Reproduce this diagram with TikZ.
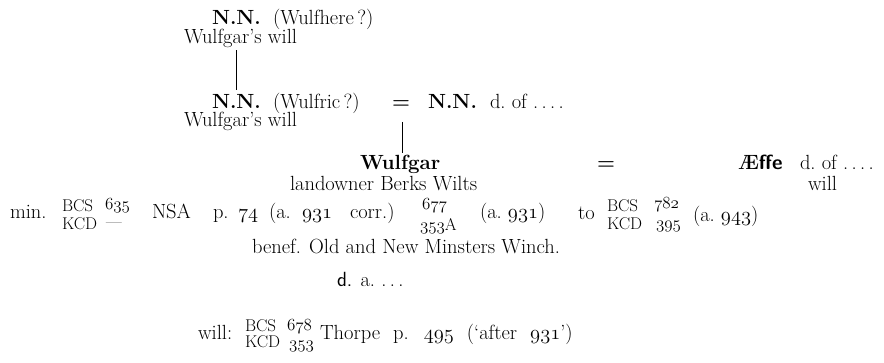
\RequirePackage{fix-cm}
\documentclass[tikz,border=0pt]{standalone}
\usetikzlibrary{calc}
\newcommand\osn[1]{{\fontencoding{OML}\fontfamily{cmm}\fontseries{m}\fontshape{it}\selectfont #1}}
\tikzset{
  txt/.style={inner sep=0pt, outer sep=0pt, anchor=base west, font=\fontsize{20.5}{24}\selectfont},
  txtb/.style={txt, font=\fontsize{20.5}{24}\selectfont\bfseries},
  txts/.style={txt, font=\fontsize{17}{20}\selectfont},
  conn/.style={line width=0.8pt}
}
\begin{document}
\begin{tikzpicture}[x=1pt,y=-1pt]
\useasboundingbox (0,0) rectangle (884,363);
% generation 1
\node[txtb] (nnA) at (212,25) {N.N.};
\node[txt] (wfA) at (273,25) {(Wulfhere\,?)};
\node[txt] (willA) at (184,44) {Wulfgar's will};
% generation 2
\node[txtb] (nnB) at (212,109) {N.N.};
\node[txt] (wfB) at (273,109) {(Wulfric\,?)};
\node[txtb] (eqA) at (392,109) {=};
\node[txtb] (nnC) at (428,109) {N.N.};
\node[txt] (dofC) at (490,109) {d.\ of .\,.\,.\,.};
\node[txt] (willB) at (184,127) {Wulfgar's will};
% generation 3
\node[txtb] (wulfgar) at (360,170) {Wulfgar};
\node[txtb] (eqB) at (597,170) {=};
\node[txtb] (aeffe) at (738,170) {Æ{\sffamily ffe}};
\node[txt] (dofE) at (800,170) {d.\ of .\,.\,.\,.};
\node[txt] (land) at (290,191) {landowner Berks Wilts};
\node[txt] (willE) at (808,191) {will};
% citations
\node[txt] (min) at (10,219) {min.};
\node[txts] (bcsA) at (62,212) {BCS};
\node[txts] (kcdA) at (62,230) {KCD};
\node[txts] (nA) at (105,210) {\osn{635}};
\node[txts] (dash) at (106,228) {---};
\node[txt] (nsa) at (152,219) {NSA};
\node[txt] (pA) at (213,219) {p.};
\node[txt] (n74) at (238,219) {\osn{74}};
\node[txt] (aA) at (269,219) {(a.};
\node[txt] (n931) at (302,219) {\osn{931}};
\node[txt] (corr) at (350,219) {corr.)};
\node[txts] (n677) at (422,210) {\osn{677}};
\node[txts] (n353A) at (420,231) {\osn{353}A};
\node[txt] (a931) at (480,219) {(a.\ \osn{931})};
\node[txt] (to) at (578,220) {to};
\node[txts] (bcsB) at (607,212) {BCS};
\node[txts] (kcdB) at (607,230) {KCD};
\node[txts] (n782) at (654,209) {\osn{782}};
\node[txts] (n395) at (656,229) {\osn{395}};
\node[txt] (a943) at (693,222) {(a.\ \osn{943})};
\node[txt] (benef) at (252,254) {benef. Old and New Minsters Winch.};
% death
\node[txt] (da) at (337,287) {{\sffamily d.} a.\ .\,.\,.};
% will
\node[txt] (willJ) at (198,340) {will:};
\node[txts] (bcsC) at (245,332) {BCS};
\node[txts] (kcdC) at (245,348) {KCD};
\node[txts] (n678) at (287,331) {\osn{678}};
\node[txts] (n353) at (289,349) {\osn{353}};
\node[txt] (thorpe) at (320,340) {\spaceskip=13pt Thorpe p. \osn{495} (`after \osn{931}')};
% connectors
\draw[conn] ($(willA.south -| nnB.north)+(0,2)$) -- ($(nnB.north)+(0,-5)$);
\draw[conn] ($(eqA.base)+(1,13)$) -- ($(wulfgar.north -| eqA.base)+(1,-3)$);
\end{tikzpicture}
\end{document}
